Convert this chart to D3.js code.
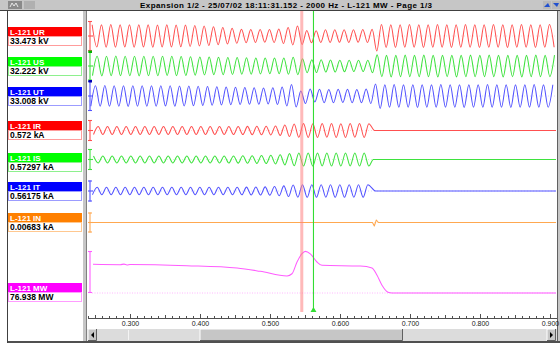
<!DOCTYPE html>
<meta charset="utf-8">
<style>
    body { margin: 0; background: #fff; }
    svg { display: block; font-family: "Liberation Sans", Arial, sans-serif; }
    .hdr { font-size: 8px; font-weight: bold; fill: #fff; }
    .val { font-size: 8.5px; font-weight: bold; fill: #000; }
    .axis text { font-size: 7px; fill: #202020; font-family: "Liberation Sans", Arial, sans-serif; }
    .axis path, .axis line { stroke: #505050; shape-rendering: crispEdges; }
</style>
<svg width="560" height="343"></svg>

<script src="https://d3js.org/d3.v7.min.js"></script>
<script>

    var title = "Expansion 1/2 - 25/07/02 18:11:31.152 - 2000 Hz - L-121 MW - Page 1/3";
    var names = ["L-121 UR", "L-121 US", "L-121 UT", "L-121 IR", "L-121 IS", "L-121 IT", "L-121 IN", "L-121 MW"];
    var readings = ["33.473 kV", "32.222 kV", "33.008 kV", "0.572 kA", "0.57297 kA", "0.56175 kA", "0.00683 kA", "76.938 MW"];
    var timeTicks = [0.3, 0.4, 0.5, 0.6, 0.7, 0.8, 0.9];
    var cursorTimes = [0.5454, 0.5621];

    // half a cycle of the displayed waves, seconds
    var HALF_CYCLE = 0.0066667;
    // time of the first peak of each wave channel
    var waveStarts = [0.2459, 0.24643, 0.24404, 0.24786, 0.24786, 0.24643];
    // time where the currents go to zero (breaker open)
    var currentOff = [0.6493, 0.6476, 0.6510];

    // successive peaks, kV
    var urPeaks = [
        45, -44, 45, -45, 46, -45, 45, -44, 45, -45,
        45, -44, 45, -45, 44, -44, 45, -44, 44, -43,
        44, -42, 42, -40, 40, -38, 37, -35, 34, -32,
        31, -29, 27, -27, 26, -26, 26, -25, 26, -26,
        28, -30, 34, -36, 40, -34, 22, -27, 21, -26,
        25, -26, 25, -25, 25, -26, 25, -25, 26, -26,
        27, -60, 46, -46, 45, -46, 45, -45, 46, -45,
        45, -46, 45, -45, 46, -45, 45, -46, 45, -45,
        46, -45, 45, -46, 45, -45, 46, -45, 45, -46,
        45, -45, 46, -45, 45, -46, 45, -45, 46, -45
    ];
    var usPeaks = [
        -40, 40, -41, 40, -40, 41, -40, 40, -40, 40,
        -41, 40, -40, 40, -40, 40, -39, 40, -40, 39,
        -39, 38, -38, 37, -37, 37, -36, 36, -36, 35,
        -35, 35, -34, 34, -34, 33, -33, 33, -32, 33,
        -32, 33, -34, 36, -36, 30, -28, 26, -27, 26,
        -25, 25, -25, 24, -24, 24, -23, 24, -23, 24,
        -28, 46, -44, 44, -45, 44, -44, 45, -44, 44,
        -44, 45, -44, 44, -45, 44, -44, 44, -45, 44,
        -44, 45, -44, 44, -44, 45, -44, 44, -45, 44,
        -44, 44, -45, 44, -44, 45, -44, 44, -44, 45
    ];
    var utPeaks = [
        -41, 41, -41, 42, -41, 41, -41, 41, -42, 41,
        -41, 41, -41, 41, -41, 41, -40, 41, -41, 40,
        -40, 40, -39, 39, -38, 38, -37, 37, -36, 36,
        -35, 35, -34, 34, -33, 33, -33, 32, -32, 33,
        -34, 36, -40, 46, -44, 20, -30, 28, -24, 27,
        -27, 26, -27, 27, -26, 27, -27, 26, -27, 28,
        -30, 48, -50, 45, -45, 46, -45, 45, -45, 45,
        -46, 45, -45, 45, -45, 46, -45, 45, -45, 45,
        -46, 45, -45, 45, -45, 46, -45, 45, -45, 45,
        -46, 45, -45, 45, -45, 46, -45, 45, -45, 45
    ];
    // successive peaks, kA
    var irPeaks = [
        -0.76, 0.76, -0.75, 0.76, -0.76, 0.75, -0.76, 0.76, -0.75, 0.76,
        -0.76, 0.76, -0.76, 0.75, -0.76, 0.76, -0.75, 0.76, -0.76, 0.76,
        -0.75, 0.76, -0.76, 0.76, -0.76, 0.75, -0.76, 0.76, -0.76, 0.77,
        -0.77, 0.78, -0.78, 0.79, -0.80, 0.80, -0.81, 0.82, -0.84, 0.86,
        -0.95, 1.05, -1.15, 1.25, -1.30, 1.32, -1.32, 1.30, -1.32, 1.32,
        -1.30, 1.32, -1.32, 1.30, -1.32, 1.32, -1.30, 1.32, -1.32, 1.30
    ];
    var isPeaks = [
        0.66, -0.66, 0.65, -0.66, 0.66, -0.65, 0.66, -0.66, 0.65, -0.66,
        0.66, -0.66, 0.66, -0.65, 0.66, -0.66, 0.65, -0.66, 0.66, -0.66,
        0.65, -0.66, 0.66, -0.66, 0.66, -0.65, 0.66, -0.66, 0.67, -0.68,
        0.68, -0.69, 0.70, -0.71, 0.72, -0.74, 0.76, -0.78, 0.80, -0.84,
        0.92, -1.02, 1.12, -1.20, 1.25, -1.25, 1.24, -1.25, 1.25, -1.24,
        1.25, -1.25, 1.24, -1.25, 1.25, -1.24, 1.25, -1.25, 1.24, -1.25
    ];
    var itPeaks = [
        -0.70, 0.70, -0.71, 0.70, -0.70, 0.71, -0.70, 0.70, -0.70, 0.71,
        -0.70, 0.70, -0.71, 0.70, -0.70, 0.70, -0.71, 0.70, -0.70, 0.70,
        -0.71, 0.70, -0.70, 0.70, -0.70, 0.71, -0.70, 0.70, -0.71, 0.71,
        -0.72, 0.72, -0.73, 0.74, -0.75, 0.76, -0.77, 0.79, -0.81, 0.84,
        -0.90, 0.98, -1.06, 1.14, -1.18, 1.20, -1.20, 1.19, -1.20, 1.20,
        -1.19, 1.20, -1.20, 1.19, -1.20, 1.20, -1.19, 1.20, -1.20, 1.20
    ];
    // neutral current, kA
    var inTimes = [0.2457, 0.6464, 0.6490, 0.6519, 0.6550, 0.9086];
    var inValues = [0, 0, -0.035, 0.025, 0, 0];
    // active power, MW
    var mwTimes = [0.2471, 0.2861, 0.2914, 0.2957, 0.3000, 0.3814, 0.4529, 0.4861, 0.5243, 0.5314,
        0.5386, 0.5457, 0.5504, 0.5576, 0.5671, 0.5743, 0.6290, 0.6457, 0.6529, 0.6600,
        0.6686, 0.6743, 0.9086];
    var mwValues = [82, 81, 82.5, 80, 81.5, 78, 71.4, 62, 48.6, 55,
        88.6, 112.3, 119, 112, 88.6, 79, 77, 71.4, 50.6, 22,
        2, 0, 0];

    // channel look and placement
    var layout = [
        {labelY: 27,  center: 36,    half: 15,   range: 60,  color: "#ff0000", trace: "#ff5050", soft: "#ff9c9c"},
        {labelY: 57,  center: 66,    half: 14.5, range: 60,  color: "#00ff00", trace: "#3ee23e", soft: "#8ef08e"},
        {labelY: 87,  center: 96,    half: 15,   range: 60,  color: "#0000ff", trace: "#5252ff", soft: "#9c9cff"},
        {labelY: 121, center: 130.5, half: 10.5, range: 2,   color: "#ff0000", trace: "#ff5050", soft: "#ff9c9c"},
        {labelY: 153, center: 159.5, half: 10.5, range: 2,   color: "#00ff00", trace: "#3ee23e", soft: "#8ef08e"},
        {labelY: 182, center: 191,   half: 10.5, range: 2,   color: "#0000ff", trace: "#5252ff", soft: "#9c9cff"},
        {labelY: 213, center: 222.5, half: 10,   range: 0.1, color: "#ff8000", trace: "#ffa850", soft: "#ffc890"},
        {labelY: 283, center: 272,   half: 21,   range: 120, color: "#ff00ff", trace: "#ff5cff", soft: "#ff9cff"}
    ];

    var svg = d3.select("svg");
    var W = 560, H = 343;
    var plotR = 557, plotT = 11, axisY = 318;

    var x = d3.scaleLinear()
        .domain([0.23857, 0.90857])
        .range([87, 556]);

    // ---- window chrome ----
    svg.append("rect").attr("width", W).attr("height", H).attr("fill", "#fff");
    svg.append("rect").attr("width", W).attr("height", 10).attr("fill", "#c6c6c6");
    svg.append("line").attr("x1", 0).attr("x2", W).attr("y1", 10.5).attr("y2", 10.5).attr("stroke", "#404040");
    svg.append("text")
        .attr("x", 286).attr("y", 8)
        .attr("text-anchor", "middle")
        .style("font-size", "8px").style("font-weight", "bold")
        .attr("textLength", 292)
        .text(title);

    // small toolbar buttons
    svg.append("rect").attr("x", 8).attr("y", 1).attr("width", 14).attr("height", 8).attr("fill", "#8a8a8a");
    svg.append("path").attr("d", "M10,7 L12,3 L14,6 L16,3 L18,7").attr("fill", "none").attr("stroke", "#e8e8e8");
    svg.append("rect").attr("x", 24).attr("y", 1).attr("width", 11).attr("height", 8).attr("fill", "#b0b0b0");
    svg.append("rect").attr("x", 543).attr("y", 1).attr("width", 8).attr("height", 8).attr("fill", "#b8b8b8");
    svg.append("path").attr("d", "M544,7 L548,3 L550,7 Z").attr("fill", "#2050d0");
    svg.append("rect").attr("x", 552).attr("y", 1).attr("width", 8).attr("height", 8).attr("fill", "#b8b8b8");
    svg.append("path").attr("d", "M553,3 L557,7 L559,3 Z").attr("fill", "#2050d0");

    // frame lines
    svg.append("line").attr("x1", 7.5).attr("x2", 7.5).attr("y1", 11).attr("y2", H).attr("stroke", "#404040");
    svg.append("rect").attr("x", 83).attr("y", 11).attr("width", 4).attr("height", H - 11).attr("fill", "#c6c6c6");
    svg.append("line").attr("x1", 86.5).attr("x2", 86.5).attr("y1", 11).attr("y2", H).attr("stroke", "#808080");
    svg.append("rect").attr("x", 557).attr("y", 11).attr("width", 3).attr("height", H - 11).attr("fill", "#c6c6c6");
    svg.append("line").attr("x1", 557.5).attr("x2", 557.5).attr("y1", 11).attr("y2", H).attr("stroke", "#606060");

    // ---- left panel labels ----
    var lab = svg.append("g");
    layout.forEach(function (c, i) {
        lab.append("rect").attr("x", 8).attr("y", c.labelY).attr("width", 74).attr("height", 9).attr("fill", c.color);
        lab.append("rect").attr("x", 8.5).attr("y", c.labelY + 9.5).attr("width", 73).attr("height", 9)
            .attr("fill", "#fff").attr("stroke", c.soft);
        lab.append("text").attr("class", "hdr").attr("x", 10).attr("y", c.labelY + 7.5).text(names[i]);
        lab.append("text").attr("class", "val").attr("x", 10).attr("y", c.labelY + 17).text(readings[i]);
    });

    // ---- plot ----
    svg.append("clipPath").attr("id", "plotclip")
        .append("rect").attr("x", 88).attr("y", plotT).attr("width", plotR - 88).attr("height", axisY - plotT);
    var g = svg.append("g").attr("clip-path", "url(#plotclip)");

    var yScales = layout.map(function (c, i) {
        if (i === 7) return d3.scaleLinear().domain([0, c.range]).range([293, 251]);
        return d3.scaleLinear().domain([-c.range, c.range]).range([c.center + c.half, c.center - c.half]);
    });

    function series(i) {
        var peaks = [urPeaks, usPeaks, utPeaks, irPeaks, isPeaks, itPeaks];
        if (i < 6) {
            var pts = peaks[i].map(function (v, k) { return [waveStarts[i] + k * HALF_CYCLE, v]; });
            if (i >= 3) {
                pts.push([currentOff[i - 3], 0]);
                pts.push([x.domain()[1], 0]);
            }
            return pts;
        }
        if (i === 6) return inTimes.map(function (t, k) { return [t, inValues[k]]; });
        return mwTimes.map(function (t, k) { return [t, mwValues[k]]; });
    }

    layout.forEach(function (c, i) {
        var y = yScales[i];
        var zero = y(0);
        // dotted zero line
        g.append("line").attr("x1", 92).attr("x2", plotR).attr("y1", zero).attr("y2", zero)
            .attr("stroke", c.soft).attr("stroke-width", 0.8)
            .attr("stroke-dasharray", i === 7 ? "1,1.5" : "1,2").attr("opacity", i === 7 ? 0.9 : 0.5);

        var line = d3.line()
            .x(function (d) { return x(d[0]); })
            .y(function (d) { return y(d[1]); })
            .curve(i === 6 ? d3.curveLinear : d3.curveMonotoneX);
        g.append("path")
            .datum(series(i))
            .attr("d", line)
            .attr("fill", "none")
            .attr("stroke", c.trace)
            .attr("stroke-width", 1.05)
            .attr("stroke-linejoin", "round");

        // scale bar
        var top = y.range()[1], bot = y.range()[0];
        var bar = svg.append("g").attr("stroke", c.trace).attr("stroke-width", 1.1);
        bar.append("line").attr("x1", 90).attr("x2", 90).attr("y1", top).attr("y2", bot);
        bar.append("line").attr("x1", 88).attr("x2", 92).attr("y1", top + 0.5).attr("y2", top + 0.5);
        bar.append("line").attr("x1", 88).attr("x2", 92).attr("y1", bot - 0.5).attr("y2", bot - 0.5);
        if (i !== 7) bar.append("line").attr("x1", 88).attr("x2", 93).attr("y1", zero).attr("y2", zero);
        if (i === 1 || i === 2) {
            svg.append("rect").attr("x", 88.5).attr("y", top - 1).attr("width", 3.5).attr("height", 2.5)
                .attr("fill", d3.color(c.color).darker(1));
        }
    });

    // ---- cursors ----
    var cx0 = x(cursorTimes[0]), cx1 = x(cursorTimes[1]);
    svg.append("rect").attr("x", cx0 - 1.5).attr("y", plotT).attr("width", 3).attr("height", 312 - plotT)
        .attr("fill", "#ff8080").attr("opacity", 0.55);
    svg.append("line").attr("x1", cx1).attr("x2", cx1).attr("y1", plotT).attr("y2", 312)
        .attr("stroke", "#33dd33").attr("stroke-width", 1.1);
    svg.append("path").attr("d", "M" + (cx1 - 3) + ",312 L" + (cx1 + 3) + ",312 L" + cx1 + ",307 Z")
        .attr("fill", "#33dd33");

    // ---- time axis ----
    var minor = d3.range(24, 91).map(function (k) { return k / 100; });
    svg.append("g").attr("class", "axis")
        .attr("transform", "translate(0," + axisY + ")")
        .call(d3.axisBottom(x).tickValues(minor.filter(function (k) { return Math.round(k * 100) % 5 !== 0; }))
            .tickSize(-2).tickSizeOuter(0).tickFormat(""));
    svg.append("g").attr("class", "axis")
        .attr("transform", "translate(0," + axisY + ")")
        .call(d3.axisBottom(x).tickValues(minor.filter(function (k) { return Math.round(k * 100) % 10 === 5; }))
            .tickSize(-3).tickSizeOuter(0).tickFormat(""));
    svg.append("g").attr("class", "axis")
        .attr("transform", "translate(0," + axisY + ")")
        .call(d3.axisBottom(x).tickValues(timeTicks).tickSize(-4).tickSizeOuter(0).tickPadding(3)
            .tickFormat(d3.format(".3f")));

    // ---- scroll bar ----
    var sb = svg.append("g");
    sb.append("rect").attr("x", 87).attr("y", 329).attr("width", 470).attr("height", 12).attr("fill", "#dcdcdc");
    function button(x0, w) {
        sb.append("rect").attr("x", x0).attr("y", 329).attr("width", w).attr("height", 12).attr("fill", "#c6c6c6");
        sb.append("path").attr("d", "M" + x0 + ",341 V329 H" + (x0 + w)).attr("fill", "none").attr("stroke", "#fff");
        sb.append("path").attr("d", "M" + x0 + ",340.5 H" + (x0 + w - 0.5) + " V329").attr("fill", "none").attr("stroke", "#606060");
    }
    button(88, 9);
    button(200, 203);
    button(547, 9);
    sb.append("path").attr("d", "M91,335 L94,332 L94,338 Z").attr("fill", "#000");
    sb.append("path").attr("d", "M553,335 L550,332 L550,338 Z").attr("fill", "#000");
    sb.append("line").attr("x1", 128.5).attr("x2", 128.5).attr("y1", 330).attr("y2", 340).attr("stroke", "#f4f4f4");
    svg.append("rect").attr("x", 8).attr("y", 341).attr("width", W - 8).attr("height", 2).attr("fill", "#505050");

</script>
